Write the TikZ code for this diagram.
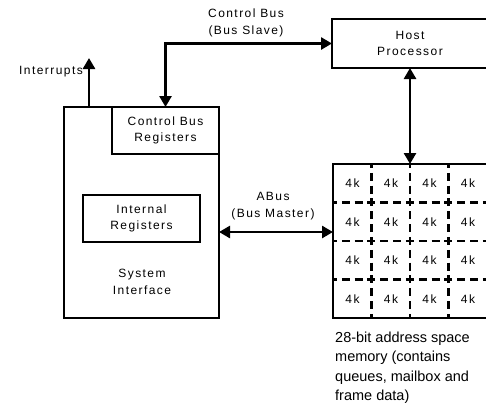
\documentclass[tikz,border=0pt]{standalone}
\usepackage{fontspec}
\setmainfont{Liberation Sans}
\newfontfamily\lblfont[LetterSpace=12]{Liberation Sans}
\usetikzlibrary{arrows.meta,positioning,calc}

\begin{document}
\begin{tikzpicture}[x=1pt, y=-1pt,
  every node/.style={font=\lblfont\fontsize{12}{16.5}\selectfont, align=center, inner sep=0pt},
  blk/.style={rectangle, outer sep=0pt},
  edge/.style={line width=2.6pt},
  sig/.style={line width=2.6pt, -{Triangle[length=11pt,width=12pt]}},
  bus/.style={line width=2.6pt, {Triangle[length=11pt,width=12pt]}-{Triangle[length=11pt,width=12pt]}},
  grid4k/.style={line width=2.6pt, dash pattern=on 8pt off 4.83pt, dash phase=4pt}]
  \useasboundingbox (0,0) rectangle (486,405);

  % boxes first
  \node[blk, minimum width=155pt, minimum height=211pt] (sys) at (141.5,212.5) {};
  \node[blk, minimum width=107pt, minimum height=47pt] (cbr) at (165.5,130.5) {};
  \node[blk, minimum width=117pt, minimum height=47pt] (intreg) at (141.5,218.5) {};
  \node[blk, minimum width=160pt, minimum height=49pt] (host) at (412,43.5) {};
  \node[blk, minimum width=158pt, minimum height=154pt] (mem) at (412,241) {};
  \draw[edge] (sys.north west) rectangle (sys.south east);
  \draw[edge] (cbr.north west) rectangle (cbr.south east);
  \draw[edge] (intreg.north west) rectangle (intreg.south east);
  \draw[edge] (host.north west) rectangle (host.south east);
  \draw[edge] (mem.north west) rectangle (mem.south east);

  % memory grid
  \coordinate (mnw) at (333,164);
  \foreach \i in {1,2,3}{
    \draw[grid4k] ($(mnw)+(38.5*\i,0)$) -- ($(mnw)+(38.5*\i,154)$);
    \draw[grid4k] ($(mnw)+(0,38.5*\i)$) -- ($(mnw)+(160,38.5*\i)$);
  }

  % buses
  \coordinate (irq) at (89,58);
  \draw[sig] (sys.north -| irq) -- (irq);
  \draw[bus] (cbr.north) |- (host.west);
  \draw[bus] (host.south -| 410,0) -- (mem.north -| 410,0);
  \coordinate (abus) at (276,232);
  \draw[bus] (sys.east |- abus) -- (mem.west |- abus);

  % texts
  \node (cbrtxt) at (cbr) {Control Bus\\Registers};
  \node (inttxt) at (intreg) {Internal\\Registers};
  \node (systxt) at (142,282) {System\\Interface};
  \node (hosttxt) at (410,43.5) {Host\\Processor};
  \foreach \r in {0,...,3}
    \foreach \c in {0,...,3}
      \node (k\r\c) at ($(mnw)+(19.5+38.5*\c,19.25+38.5*\r)$) {4k};
  \node[anchor=north west, align=left, font=\fontsize{14.5}{19.2}\selectfont] (memtxt) at (335,332)
    {28-bit address space\\memory (contains\\queues, mailbox and\\frame data)};
  \node[anchor=east] (irqlbl) at (83,72) {Interrupts};
  \node (cbuslbl) at (246,23) {Control Bus\\(Bus Slave)};
  \node (abuslbl) at (273,206) {ABus\\(Bus Master)};
\end{tikzpicture}
\end{document}
